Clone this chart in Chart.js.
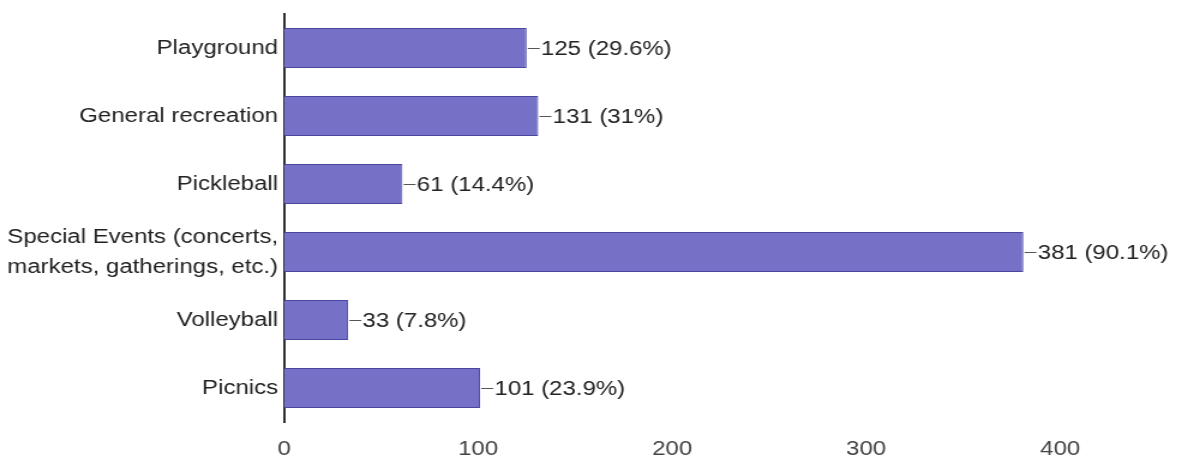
<!DOCTYPE html>
<html>
<head>
<meta charset="utf-8">
<script src="https://cdn.jsdelivr.net/npm/chart.js@4/dist/chart.umd.min.js"></script>
<style>
  html, body { margin: 0; padding: 0; background: #fff; overflow: hidden; }
  #wrap { width: 987px; height: 462px; transform: scaleX(1.2); transform-origin: 0 0; }
</style>
</head>
<body>
<div id="wrap"><canvas id="c"></canvas></div>
<script>
const categories = [
  'Playground',
  'General recreation',
  'Pickleball',
  ['Special Events (concerts,', 'markets, gatherings, etc.)'],
  'Volleyball',
  'Picnics'
];
const counts = [125, 131, 61, 381, 33, 101];
const percents = ['29.6%', '31%', '14.4%', '90.1%', '7.8%', '23.9%'];
const xTicks = [0, 100, 200, 300, 400];

const FONT = '"Liberation Sans", Arial, sans-serif';

const valueLabels = {
  id: 'valueLabels',
  afterDatasetsDraw(chart) {
    const ctx = chart.ctx;
    const meta = chart.getDatasetMeta(0);
    ctx.save();
    ctx.font = '20px ' + FONT;
    ctx.textBaseline = 'middle';
    ctx.textAlign = 'left';
    meta.data.forEach((bar, i) => {
      const x = bar.x, y = bar.y;
      ctx.strokeStyle = '#555';
      ctx.lineWidth = 1;
      ctx.beginPath();
      ctx.moveTo(x + 1, y + 0.5);
      ctx.lineTo(x + 11, y + 0.5);
      ctx.stroke();
      ctx.fillStyle = '#222';
      ctx.fillText(counts[i] + ' (' + percents[i] + ')', x + 12, y + 1);
    });
    ctx.restore();
  }
};

new Chart(document.getElementById('c'), {
  type: 'bar',
  data: {
    labels: categories,
    datasets: [{
      data: counts,
      backgroundColor: '#7571c6',
      borderColor: '#4a46a0',
      borderWidth: 1,
      barPercentage: 0.59,
      categoryPercentage: 1
    }]
  },
  options: {
    indexAxis: 'y',
    responsive: true,
    maintainAspectRatio: false,
    animation: false,
    events: [],
    layout: { padding: { top: 14, right: 6.5, bottom: 0, left: 0 } },
    plugins: { legend: { display: false }, tooltip: { enabled: false } },
    scales: {
      x: {
        min: 0,
        max: 460,
        grid: { display: false, drawTicks: false },
        border: { display: false },
        afterBuildTicks(scale) {
          scale.ticks = xTicks.map(v => ({ value: v }));
        },
        afterFit(scale) { scale.height = 40; scale.paddingLeft = 0; scale.paddingRight = 0; },
        ticks: {
          padding: 15,
          color: '#444',
          font: { family: FONT, size: 20 }
        }
      },
      y: {
        grid: { display: false, drawTicks: false },
        border: { display: true, color: '#2e2e2e', width: 2 },
        afterFit(scale) { scale.width = 236.7; scale.paddingTop = 0; scale.paddingBottom = 0; },
        ticks: {
          padding: 5,
          color: '#222',
          font: { family: FONT, size: 20, lineHeight: 1.5 }
        }
      }
    }
  },
  plugins: [valueLabels]
});
</script>
</body>
</html>
